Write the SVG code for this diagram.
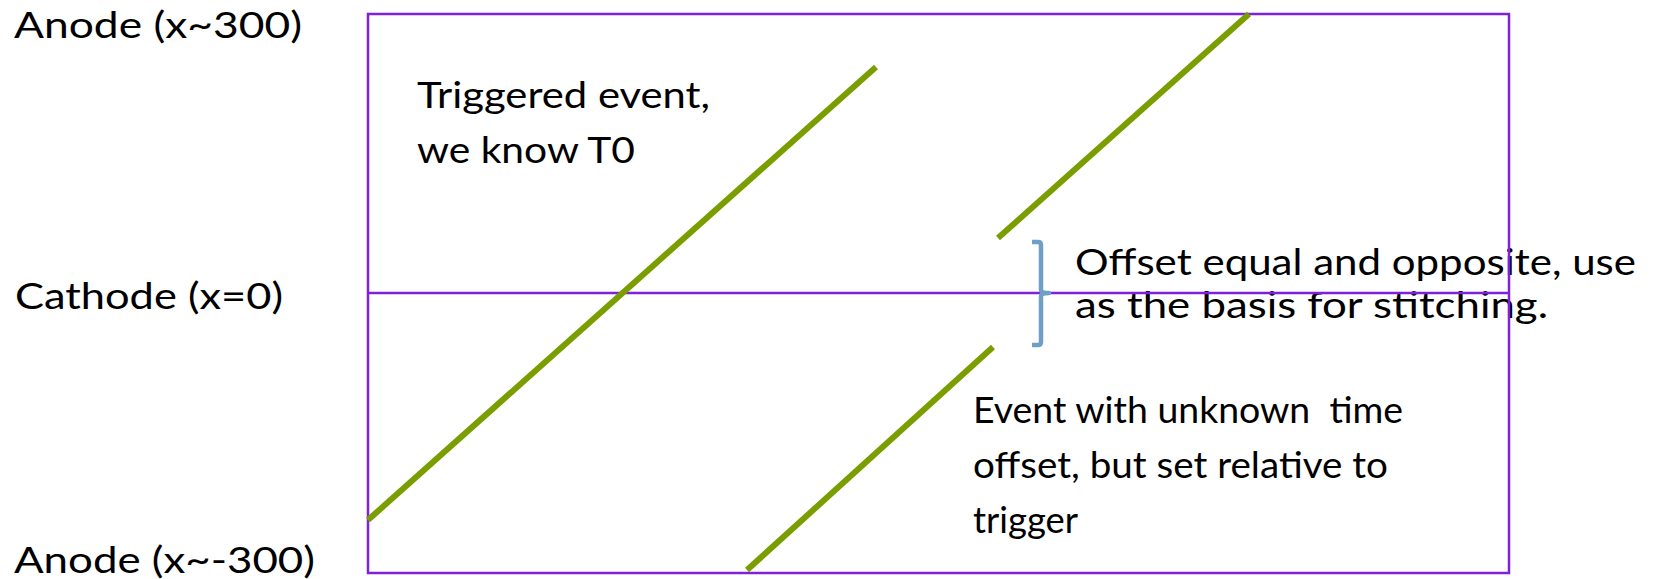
<svg xmlns="http://www.w3.org/2000/svg" width="1677" height="579" viewBox="0 0 1677 579">
<style>
  text { font-family: "Lato", "Open Sans", "Liberation Sans", sans-serif; font-size: 36px; fill: #000; white-space: pre; }
  .frame { fill: none; stroke: #8020DC; stroke-width: 2.5; }
  .track { stroke: #7A9E00; stroke-width: 6; fill: none; }
  .brace { stroke: #6F9FC6; stroke-width: 4.5; fill: none; stroke-linejoin: round; }
</style>
<rect width="1677" height="579" fill="#fff"/>
<g id="labels">
  <text x="14" y="38" textLength="288" lengthAdjust="spacingAndGlyphs">Anode (x~300)</text>
  <text x="15" y="309" textLength="268" lengthAdjust="spacingAndGlyphs">Cathode (x=0)</text>
  <text x="14" y="573" textLength="301" lengthAdjust="spacingAndGlyphs">Anode (x~-300)</text>
</g>
<g id="note-triggered">
  <text x="417" y="108" textLength="293" lengthAdjust="spacingAndGlyphs">Triggered event,</text>
  <text x="417" y="163" textLength="218" lengthAdjust="spacingAndGlyphs">we know T0</text>
</g>
<g id="note-offset">
  <text x="1075" y="275" textLength="561" lengthAdjust="spacingAndGlyphs">Offset equal and opposite, use</text>
  <text x="1075" y="318" textLength="473" lengthAdjust="spacingAndGlyphs">as the basis for stitching.</text>
</g>
<g id="note-unknown">
  <text x="973" y="423" textLength="430" lengthAdjust="spacingAndGlyphs">Event with unknown  time</text>
  <text x="973" y="478" textLength="415" lengthAdjust="spacingAndGlyphs">offset, but set relative to</text>
  <text x="973" y="533" textLength="105" lengthAdjust="spacingAndGlyphs">trigger</text>
</g>
<g id="frame">
  <rect class="frame" x="368" y="14" width="1141" height="559"/>
  <line class="frame" x1="368" y1="293" x2="1509" y2="293"/>
</g>
<g id="connectors">
  <line class="track" x1="368" y1="520" x2="876" y2="67"/>
  <line class="track" x1="998" y1="238" x2="1249" y2="14"/>
  <line class="track" x1="747" y1="570" x2="993" y2="347"/>
  <path class="brace" d="M1032,242 L1038,242 Q1041,242 1041,245 L1041,290 Q1041,293 1049,293 Q1041,293 1041,296 L1041,342 Q1041,345 1038,345 L1032,345"/>
</g>
</svg>
